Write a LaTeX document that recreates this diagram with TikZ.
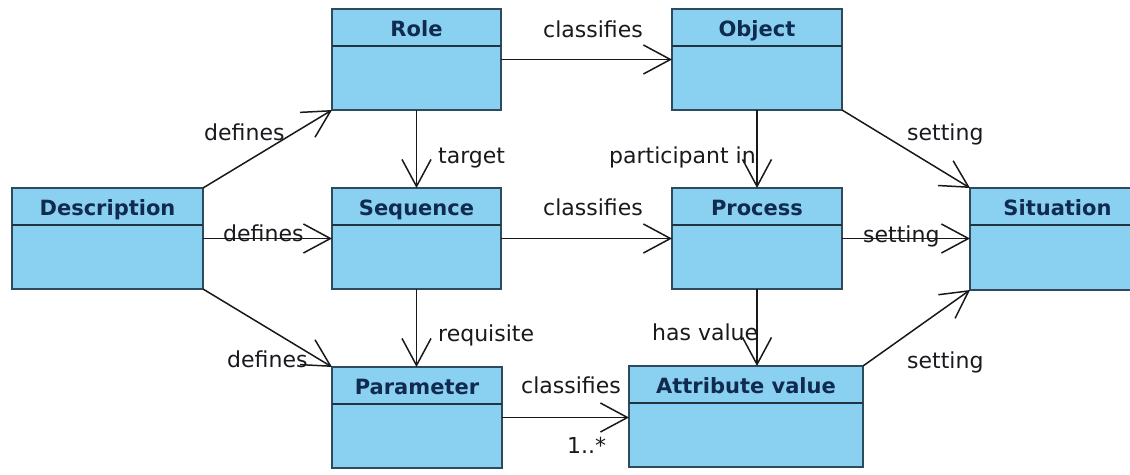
\documentclass[tikz,border=0pt]{standalone}
\usepackage{fontspec}
\setmainfont{DejaVu Sans}
\usetikzlibrary{arrows.meta}

\definecolor{clsfill}{RGB}{138,209,241}
\definecolor{clsedge}{RGB}{45,75,92}
\definecolor{clstitle}{RGB}{16,42,80}
\definecolor{lbltext}{RGB}{25,25,30}

% UML class box: name, left, top, right, bottom, title
\newcommand\umlclass[6]{%
  \node[cls, minimum width={(#4-#2)*1pt}, minimum height={(#5-#3)*1pt}] (#1) at (#2,#3) {};
  \draw[headrule] (#2,#3+37) -- (#4,#3+37);
  \node[ctitle] (#1-title) at ({(#2+#4)/2},#3+27.5) {#6};
}

\begin{document}
\begin{tikzpicture}[x=1pt,y=-1pt,
  cls/.style={draw=clsedge, fill=clsfill, line width=1.8pt, inner sep=0pt, outer sep=0pt, anchor=north west},
  headrule/.style={draw=clsedge!70!black, line width=1.8pt},
  ctitle/.style={font=\fontsize{21}{25}\selectfont\bfseries, text=clstitle, anchor=base, inner sep=0pt},
  assoc/.style={draw=black!90, line width=1.5pt, -{Straight Barb[length=27pt,width=29pt,line width=1.5pt]}},
  lbl/.style={font=\fontsize{22}{26}\selectfont, text=lbltext, anchor=base west, inner sep=0pt}
]
\useasboundingbox (0,0) rectangle (1130,474);
\fill[white] (0,0) rectangle (1130,474);
\clip (0,0) rectangle (1130,474);

% classes
\umlclass{role}{332}{9}{501}{110}{Role}
\umlclass{obj}{672}{9}{842}{110}{Object}
\umlclass{desc}{12}{188}{203}{289}{Description}
\umlclass{seq}{332}{188}{501}{289}{Sequence}
\umlclass{proc}{672}{188}{842}{289}{Process}
\umlclass{sit}{970}{188}{1145}{290}{Situation}
\umlclass{param}{332}{367}{502}{468}{Parameter}
\umlclass{attr}{629}{366}{863}{467}{Attribute value}

% associations
\draw[assoc] (desc.north east) -- (role.south west);
\draw[assoc] (desc.east) -- (seq.west);
\draw[assoc] (desc.south east) -- (param.north west);
\draw[assoc] (role.south) -- (seq.north);
\draw[assoc] (seq.south) -- (seq.south |- param.north);
\draw[assoc] (role.east) -- (obj.west);
\draw[assoc] (seq.east) -- (proc.west);
\draw[assoc] (param.east) -- (param.east -| attr.west);
\draw[assoc] (obj.south) -- (proc.north);
\draw[assoc] (proc.south) -- (proc.south |- attr.north);
\draw[assoc] (obj.south east) -- (sit.north west);
\draw[assoc] (proc.east) -- (proc.east -| sit.west);
\draw[assoc] (attr.north east) -- (sit.south west);

% association labels
\node[lbl] (l-def1) at (204,140) {defines};
\node[lbl] (l-def2) at (223,241) {defines};
\node[lbl] (l-def3) at (227,367) {defines};
\node[lbl] (l-target) at (438,163) {target};
\node[lbl] (l-req) at (438,341) {requisite};
\node[lbl] (l-cls1) at (543,37) {classifies};
\node[lbl] (l-cls2) at (543,215) {classifies};
\node[lbl] (l-cls3) at (521,393) {classifies};
\node[lbl] (l-mult) at (567,453) {1..*};
\node[lbl] (l-part) at (609,163) {participant in};
\node[lbl] (l-hasv) at (652,340) {has value};
\node[lbl] (l-set1) at (907,140) {setting};
\node[lbl] (l-set2) at (863,242) {setting};
\node[lbl] (l-set3) at (907,368) {setting};
\end{tikzpicture}
\end{document}
